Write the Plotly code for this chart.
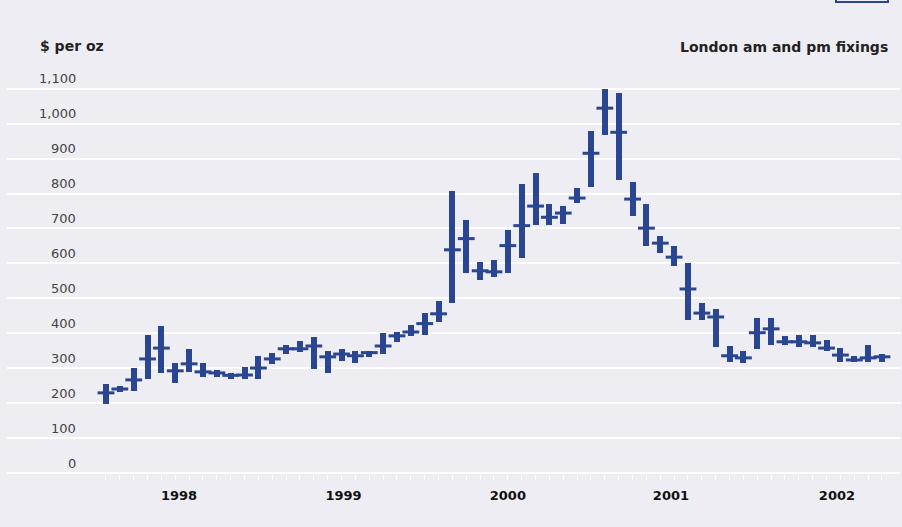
import plotly.graph_objects as go

# ---------------- data (palladium, $ per oz, London am/pm fixings) ----------------
month_names = ["Jan", "Feb", "Mar", "Apr", "May", "Jun",
               "Jul", "Aug", "Sep", "Oct", "Nov", "Dec"]
months = [f"{m} {y}" for y in range(1998, 2003) for m in month_names][:57]

low = [199, 232, 234, 271, 286, 257, 289, 274, 274, 271, 271, 271,
       312, 340, 346, 297, 286, 320, 314, 332, 340, 376, 394, 396,
       434, 486, 574, 554, 560, 574, 617, 711, 709, 714, 774, 820,
       966, 840, 737, 649, 629, 594, 437, 437, 360, 317, 314, 354,
       366, 366, 360, 360, 349, 317, 317, 317, 317]
high = [254, 251, 302, 396, 422, 316, 354, 314, 296, 288, 305, 336,
        345, 368, 379, 391, 351, 356, 351, 351, 402, 405, 425, 459,
        493, 808, 725, 605, 611, 696, 828, 859, 770, 765, 816, 979,
        1099, 1087, 833, 770, 679, 651, 602, 488, 470, 365, 351, 445,
        445, 394, 396, 396, 382, 359, 336, 368, 342]
avg = [230, 241, 267, 327, 358, 293, 313, 290, 287, 280, 281, 301,
       327, 356, 356, 364, 333, 341, 336, 345, 364, 393, 404, 428,
       456, 639, 671, 579, 576, 651, 708, 764, 732, 744, 787, 915,
       1044, 975, 784, 701, 658, 618, 527, 458, 447, 336, 330, 402,
       413, 376, 376, 373, 358, 338, 324, 330, 333]

year_labels = ["1998", "1999", "2000", "2001", "2002"]
y_ticks = list(range(0, 1101, 100))

# ---------------- styling ----------------
BG = "#EEEDF3"
BLUE = "#2A4692"
FONT = "DejaVu Sans"

x = list(range(len(months)))
year_positions = [5.27, 17.14, 29.0, 40.77, 52.75]

fig = go.Figure()
fig.add_trace(go.Bar(
    x=x, y=[h - l for h, l in zip(high, low)], base=low,
    width=0.43, marker=dict(color=BLUE, line=dict(width=0)),
    customdata=list(zip(months, low, high)),
    hovertemplate="%{customdata[0]}<br>Low %{customdata[1]}<br>High %{customdata[2]}<extra></extra>",
))
fig.add_trace(go.Scatter(
    x=x, y=avg, mode="markers",
    marker=dict(symbol="line-ew", size=12, color=BLUE,
                line=dict(width=3, color=BLUE)),
    text=months,
    hovertemplate="%{text}<br>Average %{y}<extra></extra>",
))

# y tick labels (drawn above their gridlines, right aligned)
for v in y_ticks:
    fig.add_annotation(
        x=(78 - 7) / 893, xref="paper", xanchor="right",
        y=v, yref="y", yanchor="middle", yshift=10,
        text=f"{v:,}", showarrow=False,
        font=dict(family=FONT, size=13, color="#444444"),
    )

fig.add_annotation(
    x=(38 - 7) / 893, xref="paper", xanchor="left",
    y=(474.5 - 46) / 394.5, yref="paper", yanchor="middle",
    text="<b>$ per oz</b>", showarrow=False,
    font=dict(family=FONT, size=14, color="#222222"),
)
fig.add_annotation(
    x=(890 - 7) / 893, xref="paper", xanchor="right",
    y=(474.5 - 47) / 394.5, yref="paper", yanchor="middle",
    text="<b>London am and pm fixings</b>", showarrow=False,
    font=dict(family=FONT, size=14, color="#222222"),
)

# small blue box at top right edge (cut off)
fig.add_shape(
    type="rect", xref="paper", yref="paper",
    x0=(836 - 7) / 893, x1=(888 - 7) / 893,
    y0=(474.5 - 2) / 394.5, y1=(474.5 + 20) / 394.5,
    line=dict(color=BLUE, width=2), fillcolor="rgba(0,0,0,0)",
)

fig.update_layout(
    width=902, height=527,
    margin=dict(l=7, r=2, t=80, b=52.5),
    paper_bgcolor=BG, plot_bgcolor=BG,
    showlegend=False,
    bargap=0,
    xaxis=dict(
        range=[-7.144, 57.3],
        tickmode="array", tickvals=year_positions, ticktext=year_labels,
        ticks="", showgrid=False, zeroline=False, showline=False,
        tickfont=dict(family=FONT, size=13, color="#111111", weight="bold"),
        ticklabelstandoff=12,
        minor=dict(tickmode="array", tickvals=x, ticks="outside",
                   ticklen=5, tickwidth=1, tickcolor="white", showgrid=False),
        fixedrange=True,
    ),
    yaxis=dict(
        range=[-2, 1124.5],
        tickmode="array", tickvals=y_ticks, showticklabels=False,
        showgrid=True, gridcolor="white", gridwidth=2,
        zeroline=True, zerolinecolor="white", zerolinewidth=2,
        showline=False, ticks="", fixedrange=True,
    ),
)

fig.write_html(
    "out.html",
    config={"displayModeBar": False},
    post_script="document.body.style.margin='0';document.body.style.background='#EEEDF3';",
)
